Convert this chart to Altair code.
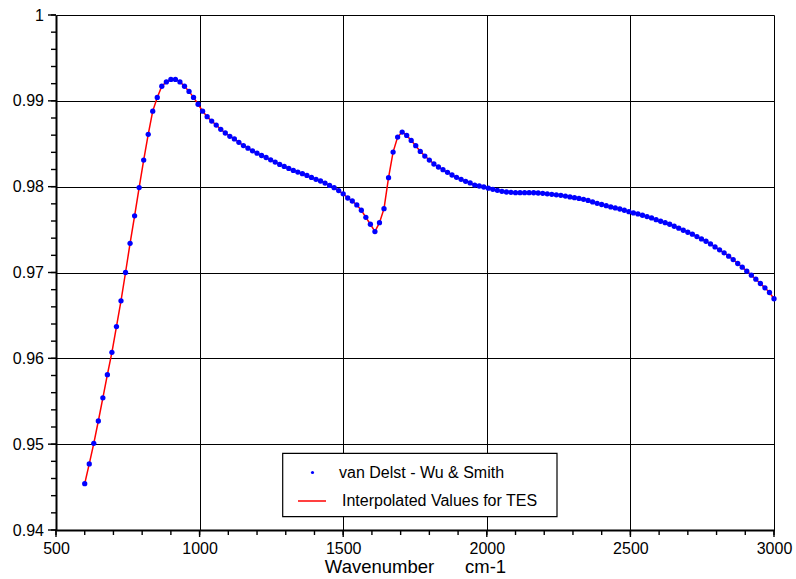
import altair as alt
import pandas as pd

wavenumber = [
    600.0, 615.8, 631.6, 647.4, 663.2, 678.9, 694.7, 710.5, 726.3, 742.1, 757.9, 773.7, 789.5, 805.3, 821.1, 836.8, 852.6, 868.4, 884.2,
    900.0, 915.8, 931.6, 947.4, 963.2, 978.9, 994.7, 1010.5, 1026.3, 1042.1, 1057.9, 1073.7, 1089.5, 1105.3, 1121.1, 1136.8, 1152.6, 1168.4, 1184.2,
    1200.0, 1215.8, 1231.6, 1247.4, 1263.2, 1278.9, 1294.7, 1310.5, 1326.3, 1342.1, 1357.9, 1373.7, 1389.5, 1405.3, 1421.1, 1436.8, 1452.6, 1468.4, 1484.2,
    1500.0, 1515.8, 1531.6, 1547.4, 1563.2, 1578.9, 1594.7, 1610.5, 1626.3, 1642.1, 1657.9, 1673.7, 1689.5, 1705.3, 1721.1, 1736.8, 1752.6, 1768.4, 1784.2,
    1800.0, 1815.8, 1831.6, 1847.4, 1863.2, 1878.9, 1894.7, 1910.5, 1926.3, 1942.1, 1957.9, 1973.7, 1989.5, 2005.3, 2021.1, 2036.8, 2052.6, 2068.4, 2084.2,
    2100.0, 2115.8, 2131.6, 2147.4, 2163.2, 2178.9, 2194.7, 2210.5, 2226.3, 2242.1, 2257.9, 2273.7, 2289.5, 2305.3, 2321.1, 2336.8, 2352.6, 2368.4, 2384.2,
    2400.0, 2415.8, 2431.6, 2447.4, 2463.2, 2478.9, 2494.7, 2510.5, 2526.3, 2542.1, 2557.9, 2573.7, 2589.5, 2605.3, 2621.1, 2636.8, 2652.6, 2668.4, 2684.2,
    2700.0, 2715.8, 2731.6, 2747.4, 2763.2, 2778.9, 2794.7, 2810.5, 2826.3, 2842.1, 2857.9, 2873.7, 2889.5, 2905.3, 2921.1, 2936.8, 2952.6, 2968.4, 2984.2,
    3000.0,
]

emissivity = [
    0.9454, 0.9477, 0.9501, 0.9527, 0.9554, 0.9581, 0.9607, 0.9637, 0.9667, 0.9700,
    0.9734, 0.9766, 0.9799, 0.9831, 0.9861, 0.9888, 0.9904, 0.9917, 0.9922, 0.9925,
    0.9925, 0.9922, 0.9917, 0.9911, 0.9904, 0.9896, 0.9888, 0.98815, 0.98764, 0.98718,
    0.98668, 0.98625, 0.98587, 0.98556, 0.98517, 0.98479, 0.98448, 0.98417, 0.98390, 0.98363,
    0.98340, 0.98313, 0.98286, 0.98259, 0.98236, 0.98212, 0.98189, 0.98170, 0.98151, 0.98131,
    0.98108, 0.98085, 0.98066, 0.98042, 0.98015, 0.97988, 0.97954, 0.97917, 0.97868, 0.97833,
    0.97787, 0.97725, 0.97643, 0.97562, 0.97477, 0.97581, 0.97744, 0.98105, 0.98403, 0.98578,
    0.98636, 0.98597, 0.98539, 0.98477, 0.98411, 0.98357, 0.98310, 0.98264, 0.98229, 0.98198,
    0.98167, 0.98136, 0.98109, 0.98085, 0.98062, 0.98043, 0.98019, 0.98008, 0.97996, 0.97982,
    0.97969, 0.97957, 0.97946, 0.97938, 0.97934, 0.97930, 0.97930, 0.97930, 0.97930, 0.97929,
    0.97926, 0.97922, 0.97917, 0.97911, 0.97905, 0.97899, 0.97891, 0.97881, 0.97872, 0.97863,
    0.97853, 0.97840, 0.97822, 0.97806, 0.97792, 0.97778, 0.97764, 0.97752, 0.97740, 0.97725,
    0.97709, 0.97694, 0.97682, 0.97667, 0.97651, 0.97636, 0.97616, 0.97597, 0.97581, 0.97562,
    0.97539, 0.97516, 0.97492, 0.97469, 0.97446, 0.97419, 0.97391, 0.97364, 0.97333, 0.97298,
    0.97264, 0.97229, 0.97190, 0.97151, 0.97105, 0.97062, 0.97016, 0.96969, 0.96922, 0.96872,
    0.96822, 0.96767, 0.96694,
]

x_major = [500, 1000, 1500, 2000, 2500, 3000]
x_minor = [500, 600, 700, 800, 900, 1000, 1100, 1200, 1300, 1400, 1500, 1600, 1700, 1800, 1900,
           2000, 2100, 2200, 2300, 2400, 2500, 2600, 2700, 2800, 2900, 3000]
y_major = [0.94, 0.95, 0.96, 0.97, 0.98, 0.99, 1.0]
y_minor = [0.94, 0.942, 0.944, 0.946, 0.948, 0.95, 0.952, 0.954, 0.956, 0.958,
           0.96, 0.962, 0.964, 0.966, 0.968, 0.97, 0.972, 0.974, 0.976, 0.978,
           0.98, 0.982, 0.984, 0.986, 0.988, 0.99, 0.992, 0.994, 0.996, 0.998, 1.0]

series_points = "van Delst - Wu & Smith"
series_line = "Interpolated Values for TES"
x_title = "Wavenumber" + "\u00a0" * 6 + "cm-1"

FONT = "Liberation Sans"
W, H = 718, 515

df = pd.DataFrame({"wn": wavenumber, "e": emissivity})

xscale = alt.Scale(domain=[500, 3000], nice=False, zero=False)
yscale = alt.Scale(domain=[0.94, 1.0], nice=False, zero=False)

x_axis = alt.Axis(values=x_major, format="d", grid=True, gridColor="black", gridWidth=1,
                  gridOpacity=1, domain=True, domainColor="black", domainWidth=2,
                  ticks=False, labelFont=FONT, labelFontSize=16, labelColor="black",
                  labelPadding=10.5, labelFlush=False,
                  title=x_title, titleFont=FONT, titleFontSize=18.5, titleFontWeight="normal",
                  titleColor="black", titlePadding=1)
y_axis = alt.Axis(values=y_major, format=".2~f", grid=True, gridColor="black", gridWidth=1,
                  gridOpacity=1, domain=True, domainColor="black", domainWidth=2,
                  ticks=False, labelFont=FONT, labelFontSize=16, labelColor="black",
                  labelPadding=12.5, labelFlush=False, title=None)

base = alt.Chart(df)

line = base.mark_line(strokeWidth=1.5).transform_calculate(
    s=f"'{series_line}'"
).encode(
    x=alt.X("wn:Q", scale=xscale, axis=x_axis),
    y=alt.Y("e:Q", scale=yscale, axis=y_axis),
    color=alt.Color("s:N", scale=alt.Scale(domain=[series_line], range=["#ff0000"]),
                    legend=alt.Legend(orient="none", legendX=241, legendY=471, title=None,
                                      symbolType="stroke", symbolSize=784, symbolStrokeWidth=1.5,
                                      labelOffset=15, padding=0, labelFont=FONT, labelLimit=0,
                                      labelFontSize=16, labelColor="black")),
)

points = base.mark_point(filled=True, size=28, opacity=1).transform_calculate(
    s=f"'{series_points}'"
).encode(
    x=alt.X("wn:Q", scale=xscale),
    y=alt.Y("e:Q", scale=yscale),
    color=alt.Color("s:N", scale=alt.Scale(domain=[series_points], range=["#0000ff"]),
                    legend=alt.Legend(orient="none", legendX=248.5, legendY=449.5, title=None,
                                      symbolType="circle", symbolSize=10, symbolStrokeWidth=0,
                                      symbolOpacity=1, labelLimit=0,
                                      labelOffset=18.5, padding=0, labelFont=FONT,
                                      labelFontSize=16, labelColor="black")),
)

# outward tick marks along the axes, placed through the shared scales
TICK_W = 1.4
xt_minor = alt.Chart(pd.DataFrame({"v": x_minor})).mark_rule(color="black", strokeWidth=TICK_W).encode(
    x=alt.X("v:Q", scale=xscale), y=alt.value(H), y2=alt.value(H + 5))
xt_major = alt.Chart(pd.DataFrame({"v": x_major})).mark_rule(color="black", strokeWidth=TICK_W).encode(
    x=alt.X("v:Q", scale=xscale), y=alt.value(H), y2=alt.value(H + 7))
yt_minor = alt.Chart(pd.DataFrame({"v": y_minor})).mark_rule(color="black", strokeWidth=TICK_W).encode(
    y=alt.Y("v:Q", scale=yscale), x=alt.value(0), x2=alt.value(-5))
yt_major = alt.Chart(pd.DataFrame({"v": y_major})).mark_rule(color="black", strokeWidth=TICK_W).encode(
    y=alt.Y("v:Q", scale=yscale), x=alt.value(0), x2=alt.value(-8))

frame = alt.Chart(pd.DataFrame({"a": [0]})).mark_rect(
    fill="white", stroke="black", strokeWidth=1.2
).encode(
    x=alt.value(226.7), x2=alt.value(501), y=alt.value(438.3), y2=alt.value(501.7)
)

chart = alt.layer(line, points, xt_minor, xt_major, yt_minor, yt_major, frame).resolve_scale(
    color="independent"
).resolve_legend(
    color="independent"
).properties(
    width=W, height=H,
    autosize=alt.AutoSizeParams(type="none"),
    padding={"left": 56, "top": 15, "right": 22, "bottom": 49},
    background="white",
).configure_view(strokeWidth=0)

chart.save("out.html", embed_options={"renderer": "svg", "actions": False})
